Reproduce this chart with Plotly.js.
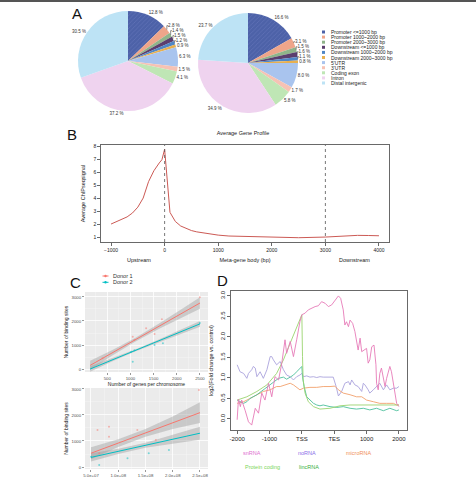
<!DOCTYPE html>
<html><head><meta charset="utf-8">
<script src="https://cdn.plot.ly/plotly-3.0.1.min.js"></script>
<style>html,body{margin:0;padding:0;background:#fff;overflow:hidden}</style>
</head><body><div id="chart" style="width:476px;height:479px"></div>
<script>
// ---------- Panel A data ----------
const regionLabels = ['Promoter <=1000 bp','Promoter 1000~2000 bp','Promoter 2000~3000 bp','Downstream <=1000 bp','Downstream 1000~2000 bp','Downstream 2000~3000 bp',"5'UTR","3'UTR",'Coding exon','Intron','Distal intergenic'];
const pie1Values = [12.8, 2.8, 1.4, 1.5, 1.2, 0.9, 6.3, 1.5, 4.1, 37.2, 30.5];
const pie2Values = [16.6, 3.1, 1.5, 1.6, 1.1, 0.8, 8.0, 1.7, 5.8, 34.9, 23.7];
const regionColors = ['#4d62a8','#eea58a','#8fb48a','#5b3e6e','#4f86c6','#e8b050','#a9c4ee','#f6c2b4','#bfe6b5','#efd3ef','#bde3f5'];

// ---------- Panel B data ----------
const profileX = [-1000,-900,-800,-700,-600,-500,-400,-300,-200,-150,-100,-50,0,100,200,300,400,500,600,800,1000,1200,1500,2000,2500,3000,3200,3400,3600,3800,4000];
const profileY = [2.0,2.18,2.35,2.55,2.85,3.3,4.0,5.26,6.1,6.45,6.7,6.95,7.75,2.9,2.2,1.85,1.65,1.5,1.4,1.25,1.15,1.08,1.04,1.0,0.95,1.0,1.05,1.12,1.13,1.12,1.1];
const profileTicks = [-1000,0,1000,2000,3000,4000];

// ---------- Panel C data ----------
const donorNames = ['Donor 1','Donor 2'];
const donorColors = ['#F8766D','#00BFC4'];
// genes per chromosome vs binding sites
const genesD1 = [2497,1678,1338,1049,1086,1520,398];
const sitesGenesD1 = [2988,2071,1696,1346,1208,1458,446];
const genesD2 = [2497,1014,1049,1700,1520,1086];
const sitesGenesD2 = [1917,721,304,1070,1000,780];
const fitGenesX = [130,600,1100,1600,2100,2500];
const fitGenesD1 = [150,666,1214,1763,2311,2750];
const fitGenesD1lo = [-40,556,1134,1653,2131,2510];
const fitGenesD1hi = [340,776,1294,1873,2491,2990];
const fitGenesD2 = [0,373,769,1166,1562,1880];
const fitGenesD2lo = [-110,313,729,1111,1472,1760];
const fitGenesD2hi = [110,433,809,1221,1652,2000];
// chromosome length vs binding sites
const lenD1 = [2.48e8,8.3e7,6.2e7,1.35e8,8.3e7,6.5e7,1.69e8];
const sitesLenD1 = [2962,1551,1423,1423,1167,526,1038];
const lenD2 = [1.93e8,1.56e8,1.17e8,6.5e7,5e7];
const sitesLenD2 = [654,526,333,77,397];
const fitLenX = [5e7,1e8,1.5e8,2e8,2.5e8];
const fitLenD1 = [530,920,1310,1700,2090];
const fitLenD1lo = [300,770,1160,1460,1690];
const fitLenD1hi = [760,1070,1460,1940,2490];
const fitLenD2 = [370,603,835,1068,1300];
const fitLenD2lo = [210,503,740,908,1050];
const fitLenD2hi = [530,703,930,1228,1550];
const genesTicks = [500,1000,1500,2000,2500];
const lenTicks = [5e7,1e8,1.5e8,2e8,2.5e8];
const lenTickText = ['5.0e+07','1.0e+08','1.5e+08','2.0e+08','2.5e+08'];
const sitesTicks = [0,1000,2000,3000];

// ---------- Panel D data (meta-gene coordinate: 0=-2000, 2=TSS, 3=TES, 5=+2000) ----------
const metaTicks = [0,1,2,3,4,5];
const metaTickText = ['-2000','-1000','TSS','TES','1000','2000'];
const rnaNames = ['snRNA','noRNA','microRNA','Protein coding','lincRNA'];
const rnaLineColors = ['#e67ab8','#aaa3dc','#f2a06c','#9ad46e','#4cbf9c'];
const rnaTextColors = ['#e070d0','#8a6ee8','#f0905a','#7cd65a','#3cb043'];
const snX = [0,0.04,0.1,0.14,0.25,0.35,0.45,0.56,0.66,0.76,0.86,0.97,1.07,1.17,1.28,1.38,1.48,1.53,1.64,1.74,1.84,1.89,1.94,2.0,2.1,2.2,2.3,2.41,2.51,2.61,2.72,2.82,2.92,3.02,3.13,3.2,3.28,3.33,3.38,3.44,3.49,3.57,3.64,3.74,3.8,3.85,3.95,4.0,4.05,4.1,4.16,4.23,4.29,4.31,4.36,4.41,4.46,4.52,4.57,4.62,4.67,4.72,4.77,4.83,4.88,4.93,5.0];
const snY = [-0.02,0.48,0.3,0.46,0.2,-0.07,-0.15,0.26,0.14,0.63,0.46,0.87,0.54,1.03,0.95,1.36,1.93,1.6,1.89,1.52,1.93,2.17,2.37,2.54,2.58,2.66,2.7,2.74,2.76,2.86,2.82,2.74,2.78,2.9,3.0,2.94,2.66,2.29,2.37,2.25,2.41,2.33,2.13,1.68,1.97,1.64,1.68,1.72,1.36,1.44,1.76,1.8,1.32,0.87,0.71,1.11,1.24,1.03,0.79,0.99,1.15,1.28,1.15,0.87,0.67,0.38,0.3];
const noX = [0,0.09,0.2,0.3,0.35,0.45,0.5,0.56,0.61,0.71,0.81,0.92,1.02,1.07,1.12,1.22,1.33,1.43,1.53,1.64,1.74,1.84,1.94,2.0,2.05,2.15,2.25,2.36,2.46,2.56,2.66,2.77,2.87,2.97,3.06,3.13,3.23,3.33,3.44,3.49,3.54,3.64,3.74,3.85,3.9,3.95,4.05,4.1,4.21,4.31,4.41,4.52,4.62,4.72,4.83,4.93,5.0];
const noY = [1.32,1.15,1.11,0.99,1.11,1.2,1.28,1.24,1.03,1.15,0.99,1.2,1.52,1.52,1.44,1.32,1.4,1.2,1.07,1.03,0.95,1.03,1.07,1.11,1.03,1.05,1.02,1.03,1.01,1.03,1.02,1.02,1.02,1.02,0.79,0.56,0.67,0.87,0.91,0.83,0.95,0.83,0.79,0.67,0.87,0.83,0.71,0.63,0.71,0.79,0.87,0.71,0.83,0.71,0.75,0.75,0.79];
const miX = [0,0.2,0.4,0.61,0.81,1.02,1.22,1.33,1.48,1.64,1.74,1.84,1.94,2.05,2.25,2.46,2.66,2.87,3.02,3.13,3.28,3.49,3.69,3.85,4.0,4.21,4.41,4.62,4.83,4.93,5.0];
const miY = [0.38,0.42,0.5,0.59,0.67,0.71,0.79,0.79,0.83,0.87,0.83,0.77,0.71,0.75,0.77,0.77,0.79,0.79,0.8,0.71,0.63,0.59,0.54,0.54,0.46,0.42,0.38,0.38,0.38,0.34,0.34];
const pcX = [0,0.3,0.61,0.92,1.22,1.43,1.64,1.84,2.0,2.02,2.04,2.1,2.2,2.36,2.56,2.87,3.18,3.49,3.9,4.41,5.0];
const pcY = [0.46,0.54,0.67,0.83,1.11,1.44,1.85,2.25,2.54,1.52,0.95,0.63,0.42,0.3,0.24,0.26,0.32,0.34,0.34,0.34,0.34];
const liX = [0,0.09,0.2,0.3,0.4,0.61,0.81,1.02,1.12,1.28,1.43,1.53,1.64,1.74,1.84,1.94,2.0,2.02,2.07,2.15,2.25,2.36,2.46,2.56,2.66,2.87,3.08,3.28,3.49,3.69,3.9,4.1,4.31,4.52,4.72,4.93,5.0];
const liY = [0.46,0.42,0.38,0.42,0.5,0.59,0.71,0.83,0.91,0.99,1.02,0.97,1.02,1.07,1.15,1.24,1.28,1.03,0.79,0.54,0.46,0.38,0.34,0.32,0.34,0.3,0.28,0.3,0.26,0.24,0.26,0.22,0.26,0.2,0.26,0.2,0.22];

// ---------- helpers ----------
const W = 476, H = 479;
const fx = p => p / W, fy = p => 1 - p / H;
const FONT = 'Liberation Sans, Arial, sans-serif';
const rev = a => a.slice().reverse();

const traces = [];
const pieText = v => v.map(x => x.toFixed(1) + ' %');
function pie(values, cx, cy, r) {
  return {
    type: 'pie', values: values, labels: regionLabels, sort: false, direction: 'clockwise', rotation: 0,
    marker: {colors: regionColors, line: {width: 0},
      pattern: {shape: regionLabels.map((_, i) => i === 0 ? '/' : ''), fgcolor: '#6476bb', bgcolor: regionColors[0],
        fillmode: 'replace', size: 3, solidity: 0.2}},
    text: pieText(values), textinfo: 'text', textposition: 'outside',
    outsidetextfont: {size: 4.5, color: '#333', family: FONT},
    domain: {x: [fx(cx - r), fx(cx + r)], y: [fy(cy + r), fy(cy - r)]},
    showlegend: false, hoverinfo: 'label+percent'
  };
}
traces.push(pie(pie1Values, 128, 61, 50));
traces.push(pie(pie2Values, 248, 63, 50));

// Panel B
traces.push({type: 'scatter', mode: 'lines', x: profileX, y: profileY, xaxis: 'x', yaxis: 'y',
  line: {color: '#cc5a55', width: 1}, showlegend: false});

// Panel C bands + lines + points
function band(xs, lo, hi, xa, ya) {
  return {type: 'scatter', mode: 'lines', x: xs.concat(rev(xs)), y: hi.concat(rev(lo)), fill: 'toself',
    fillcolor: 'rgba(150,150,150,0.4)', line: {width: 0}, xaxis: xa, yaxis: ya, showlegend: false, hoverinfo: 'skip'};
}
function fit(xs, ys, col, xa, ya) {
  return {type: 'scatter', mode: 'lines', x: xs, y: ys, line: {color: col, width: 1}, xaxis: xa, yaxis: ya, showlegend: false};
}
function pts(xs, ys, col, xa, ya) {
  return {type: 'scatter', mode: 'markers', x: xs, y: ys, marker: {color: col, size: 2, opacity: 0.5}, xaxis: xa, yaxis: ya, showlegend: false};
}
traces.push(band(fitGenesX, fitGenesD1lo, fitGenesD1hi, 'x2', 'y2'));
traces.push(band(fitGenesX, fitGenesD2lo, fitGenesD2hi, 'x2', 'y2'));
traces.push(fit(fitGenesX, fitGenesD1, donorColors[0], 'x2', 'y2'));
traces.push(fit(fitGenesX, fitGenesD2, donorColors[1], 'x2', 'y2'));
traces.push(pts(genesD1, sitesGenesD1, donorColors[0], 'x2', 'y2'));
traces.push(pts(genesD2, sitesGenesD2, donorColors[1], 'x2', 'y2'));
traces.push(band(fitLenX, fitLenD1lo, fitLenD1hi, 'x3', 'y3'));
traces.push(band(fitLenX, fitLenD2lo, fitLenD2hi, 'x3', 'y3'));
traces.push(fit(fitLenX, fitLenD1, donorColors[0], 'x3', 'y3'));
traces.push(fit(fitLenX, fitLenD2, donorColors[1], 'x3', 'y3'));
traces.push(pts(lenD1, sitesLenD1, donorColors[0], 'x3', 'y3'));
traces.push(pts(lenD2, sitesLenD2, donorColors[1], 'x3', 'y3'));

// Panel D
const rnaX = [snX, noX, miX, pcX, liX], rnaY = [snY, noY, miY, pcY, liY];
const drawOrder = [1, 2, 4, 3, 0];
drawOrder.forEach(i => traces.push({type: 'scatter', mode: 'lines', x: rnaX[i], y: rnaY[i], name: rnaNames[i],
  line: {color: rnaLineColors[i], width: 0.9}, xaxis: 'x4', yaxis: 'y4', showlegend: false}));

// ---------- axes ----------
const rAxis = {showline: true, mirror: true, linecolor: '#444', linewidth: 0.8, ticks: 'outside', ticklen: 3,
  tickcolor: '#444', tickwidth: 0.8, showgrid: false, zeroline: false, tickfont: {size: 5, family: FONT, color: '#222'}};
const ggAxis = {showline: false, ticks: 'outside', ticklen: 2, tickcolor: '#555', tickwidth: 0.6, showgrid: true,
  gridcolor: '#ffffff', gridwidth: 0.8, zeroline: false, tickfont: {size: 4.3, family: FONT, color: '#4d4d4d'}};

const layout = {
  width: W, height: H, margin: {l: 0, r: 0, t: 0, b: 0}, paper_bgcolor: '#fff', plot_bgcolor: 'rgba(0,0,0,0)',
  font: {family: FONT}, showlegend: false,
  title: {text: 'Average Gene Profile', x: fx(243), y: fy(133), xanchor: 'center', yanchor: 'middle', font: {size: 5.5, color: '#222'}},
  xaxis: Object.assign({}, rAxis, {domain: [fx(101), fx(389)], anchor: 'y', range: [-1187, 4187], tickvals: profileTicks,
    title: {text: 'Meta-gene body (bp)', font: {size: 5.5, color: '#222'}, standoff: 6}}),
  yaxis: Object.assign({}, rAxis, {domain: [fy(242), fy(145)], anchor: 'x', range: [0.62, 8.08], tickvals: [1,2,3,4,5,6,7,8],
    title: {text: 'Average ChIPseqsignal', font: {size: 5.5, color: '#222'}, standoff: 7}}),
  xaxis2: Object.assign({}, ggAxis, {domain: [fx(85), fx(208)], anchor: 'y2', range: [19, 2673], tickvals: genesTicks,
    minor: {tick0: 250, dtick: 500, showgrid: true, gridcolor: 'rgba(255,255,255,0.6)', gridwidth: 0.4, ticks: ''},
    title: {text: 'Number of genes per chromosome', font: {size: 5, color: '#222'}, standoff: 2}}),
  yaxis2: Object.assign({}, ggAxis, {domain: [fy(372), fy(292)], anchor: 'x2', range: [-125, 3208], tickvals: sitesTicks,
    minor: {tick0: 500, dtick: 1000, showgrid: true, gridcolor: 'rgba(255,255,255,0.6)', gridwidth: 0.4, ticks: ''},
    title: {text: 'Number of binding sites', font: {size: 5, color: '#222'}, standoff: 2}}),
  xaxis3: Object.assign({}, ggAxis, {domain: [fx(85), fx(208)], anchor: 'y3', range: [3.9e7, 2.647e8], tickvals: lenTicks, ticktext: lenTickText,
    minor: {tick0: 2.5e7, dtick: 5e7, showgrid: true, gridcolor: 'rgba(255,255,255,0.6)', gridwidth: 0.4, ticks: ''}}),
  yaxis3: Object.assign({}, ggAxis, {domain: [fy(469), fy(388)], anchor: 'x3', range: [-77, 3038], tickvals: sitesTicks,
    minor: {tick0: 500, dtick: 1000, showgrid: true, gridcolor: 'rgba(255,255,255,0.6)', gridwidth: 0.4, ticks: ''},
    title: {text: 'Number of binding sites', font: {size: 5, color: '#222'}, standoff: 2}}),
  xaxis4: Object.assign({}, rAxis, {domain: [fx(231), fx(407)], anchor: 'y4', range: [-0.19, 5.25], tickvals: metaTicks, ticktext: metaTickText,
    tickfont: {size: 6, family: FONT, color: '#222'}}),
  yaxis4: Object.assign({}, rAxis, {domain: [fy(430), fy(291)], anchor: 'x4', range: [-0.27, 3.12], tickvals: [0,0.5,1,1.5,2,2.5,3],
    tickformat: '.1f', tickangle: -90, tickfont: {size: 6, family: FONT, color: '#222'},
    title: {text: 'log2(Fold change vs. control)', font: {size: 5.5, color: '#222'}, standoff: 5}}),
  shapes: [], annotations: []
};

// ggplot panel backgrounds
[['x2','y2'],['x3','y3']].forEach(([xa, ya]) => layout.shapes.push({type: 'rect', xref: xa + ' domain', yref: ya + ' domain',
  x0: 0, x1: 1, y0: 0, y1: 1, fillcolor: '#EBEBEB', line: {width: 0}, layer: 'below'}));
// dashed lines panel B
[0, 3000].forEach(v => layout.shapes.push({type: 'line', xref: 'x', yref: 'y domain', x0: v, x1: v, y0: 0, y1: 1,
  line: {color: '#555', width: 0.8, dash: 'dot'}}));
// top border
layout.shapes.push({type: 'line', xref: 'paper', yref: 'paper', x0: 0, x1: 1, y0: fy(1), y1: fy(1), line: {color: '#555', width: 2}});

// x-axis title of the lower C panel (cut by the figure's bottom edge, as in the reference)
layout.annotations.push({xref: 'x3 domain', yref: 'paper', x: 0.5, y: fy(484), xanchor: 'center', yanchor: 'middle',
  text: 'Chromosome length', showarrow: false, font: {size: 5, color: '#222'}});

// pie legend
regionLabels.forEach((lab, i) => {
  const yc = 32 + 5.1 * i;
  layout.shapes.push({type: 'rect', xref: 'paper', yref: 'paper', x0: fx(322), x1: fx(325), y0: fy(yc + 1.5), y1: fy(yc - 1.5),
    fillcolor: regionColors[i], line: {width: 0}});
  layout.annotations.push({xref: 'paper', yref: 'paper', x: fx(329), y: fy(yc), xanchor: 'left', yanchor: 'middle',
    text: lab, showarrow: false, font: {size: 5, color: '#222'}});
});

// panel letters
[['A', 77, 14], ['B', 72, 135], ['C', 75, 282], ['D', 222, 280]].forEach(([t, x, y]) =>
  layout.annotations.push({xref: 'paper', yref: 'paper', x: fx(x), y: fy(y), xanchor: 'center', yanchor: 'middle',
    text: t, showarrow: false, font: {size: 15, color: '#111'}}));

// panel B region labels
[['Upstream', 139], ['Downstream', 354]].forEach(([t, x]) =>
  layout.annotations.push({xref: 'paper', yref: 'paper', x: fx(x), y: fy(260), xanchor: 'center', yanchor: 'middle',
    text: t, showarrow: false, font: {size: 5.5, color: '#222'}}));

// panel C legend
donorNames.forEach((n, i) => {
  const yc = 276 + 6.3 * i;
  layout.shapes.push({type: 'line', xref: 'paper', yref: 'paper', x0: fx(102.5), x1: fx(108.5), y0: fy(yc), y1: fy(yc),
    line: {color: donorColors[i], width: 1}});
  layout.shapes.push({type: 'circle', xref: 'paper', yref: 'paper', x0: fx(104.3), x1: fx(106.7), y0: fy(yc + 1.2), y1: fy(yc - 1.2),
    fillcolor: donorColors[i], line: {width: 0}});
  layout.annotations.push({xref: 'paper', yref: 'paper', x: fx(110.5), y: fy(yc), xanchor: 'left', yanchor: 'middle',
    text: n, showarrow: false, font: {size: 5.5, color: '#333'}});
});

// panel D legend
const dLegendPos = [[252, 453], [307, 453], [358, 453], [262, 467], [309, 467]];
rnaNames.forEach((n, i) => layout.annotations.push({xref: 'paper', yref: 'paper', x: fx(dLegendPos[i][0]), y: fy(dLegendPos[i][1]),
  xanchor: 'center', yanchor: 'middle', text: n, showarrow: false, font: {size: 5.5, color: rnaTextColors[i]}}));

Plotly.newPlot('chart', traces, layout, {staticPlot: true, displayModeBar: false});
</script>
</body></html>
